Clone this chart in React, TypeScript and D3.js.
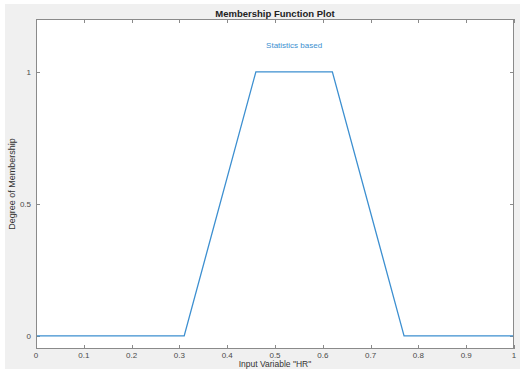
import { useEffect, useRef } from 'react'
import * as d3 from 'd3'

const mfX = [0, 0.31, 0.46, 0.62, 0.77, 1]
const mfY = [0, 0, 1, 1, 0, 0]
const mfName = 'Statistics based'
const xTicks = [0, 0.1, 0.2, 0.3, 0.4, 0.5, 0.6, 0.7, 0.8, 0.9, 1]
const yTicks = [0, 0.5, 1]
const title = 'Membership Function Plot'
const xLabel = 'Input Variable "HR"'
const yLabel = 'Degree of Membership'

export default function App() {
  const svgRef = useRef<SVGSVGElement>(null)

  useEffect(() => {
    if (!svgRef.current) return
    const svg = d3.select(svgRef.current)
    svg.selectAll('*').remove()

    const W = 520
    const H = 369
    const box = { left: 36, right: 514, top: 19, bottom: 349 }
    const font = 'Arial, "Liberation Sans", sans-serif'
    const blue = '#3c8fd0'
    const axisColor = '#8a8a8a'

    // figure background
    svg.append('rect').attr('x', 5).attr('y', 4).attr('width', W - 5).attr('height', H - 4).attr('fill', '#f0f0f0')

    const x = d3.scaleLinear().domain([0, 1]).range([box.left, box.right])
    const y = d3.scaleLinear().domain([-0.05, 1.2]).range([box.bottom, box.top])

    // axes area
    svg.append('rect')
      .attr('x', box.left).attr('y', box.top)
      .attr('width', box.right - box.left).attr('height', box.bottom - box.top)
      .attr('fill', '#fff')

    const tickLen = 4
    const ticks = svg.append('g').attr('stroke', axisColor).attr('stroke-width', 1)
    xTicks.forEach(t => {
      const px = Math.round(x(t)) + 0.5
      ticks.append('line').attr('x1', px).attr('x2', px).attr('y1', box.bottom).attr('y2', box.bottom - tickLen)
      ticks.append('line').attr('x1', px).attr('x2', px).attr('y1', box.top).attr('y2', box.top + tickLen)
    })
    yTicks.forEach(t => {
      const py = Math.round(y(t)) + 0.5
      ticks.append('line').attr('x1', box.left).attr('x2', box.left + tickLen).attr('y1', py).attr('y2', py)
      ticks.append('line').attr('x1', box.right).attr('x2', box.right - tickLen).attr('y1', py).attr('y2', py)
    })

    // membership function
    const line = d3.line<number>()
      .x((d, i) => x(mfX[i]))
      .y(d => y(d))
    svg.append('path')
      .datum(mfY)
      .attr('fill', 'none')
      .attr('stroke', blue)
      .attr('stroke-width', 1.3)
      .attr('d', line)

    svg.append('text')
      .attr('x', x((mfX[2] + mfX[3]) / 2))
      .attr('y', y(1.1))
      .attr('dy', '0.35em')
      .attr('text-anchor', 'middle')
      .attr('font-family', font)
      .attr('font-size', 8)
      .attr('fill', blue)
      .text(mfName)

    // box outline
    svg.append('rect')
      .attr('x', box.left + 0.5).attr('y', box.top + 0.5)
      .attr('width', box.right - box.left - 1).attr('height', box.bottom - box.top - 1)
      .attr('fill', 'none').attr('stroke', axisColor)

    // tick labels
    svg.append('g').selectAll('text').data(xTicks).join('text')
      .attr('x', d => x(d))
      .attr('y', box.bottom + 8.5)
      .attr('text-anchor', 'middle')
      .attr('font-family', font)
      .attr('font-size', 8)
      .attr('fill', '#4a4a4a')
      .text(d => String(d))

    svg.append('g').selectAll('text').data(yTicks).join('text')
      .attr('x', box.left - 5)
      .attr('y', d => y(d))
      .attr('dy', '0.35em')
      .attr('text-anchor', 'end')
      .attr('font-family', font)
      .attr('font-size', 8)
      .attr('fill', '#4a4a4a')
      .text(d => String(d))

    svg.append('text')
      .attr('x', (box.left + box.right) / 2)
      .attr('y', 17)
      .attr('text-anchor', 'middle')
      .attr('font-family', font)
      .attr('font-size', 9.5)
      .attr('font-weight', 'bold')
      .attr('fill', '#222')
      .text(title)

    svg.append('text')
      .attr('x', (box.left + box.right) / 2)
      .attr('y', 367)
      .attr('text-anchor', 'middle')
      .attr('font-family', font)
      .attr('font-size', 8.5)
      .attr('fill', '#333')
      .text(xLabel)

    svg.append('text')
      .attr('transform', `translate(15,${(box.top + box.bottom) / 2}) rotate(-90)`)
      .attr('text-anchor', 'middle')
      .attr('font-family', font)
      .attr('font-size', 9)
      .attr('fill', '#333')
      .text(yLabel)
  }, [])

  return (
    <svg
      ref={svgRef}
      width={520}
      height={369}
      style={{ position: 'absolute', left: 0, top: 0, background: '#fff' }}
    />
  )
}
